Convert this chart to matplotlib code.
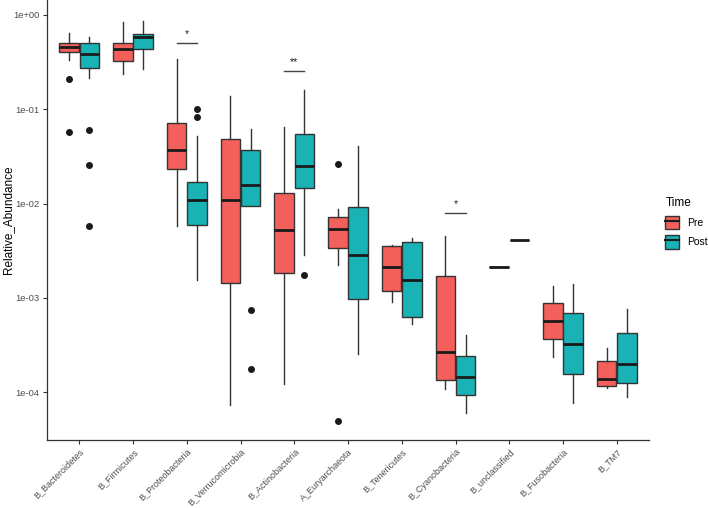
import matplotlib
matplotlib.use("Agg")
import matplotlib.pyplot as plt
from matplotlib.patches import Patch
from matplotlib.lines import Line2D
from matplotlib.legend_handler import HandlerTuple
import numpy as np

plt.rcParams['font.family'] = ['Liberation Sans', 'DejaVu Sans']

categories = ['B_Bacteroidetes', 'B_Firmicutes', 'B_Proteobacteria', 'B_Verrucomicrobia',
              'B_Actinobacteria', 'A_Euryarchaeota', 'B_Tenericutes', 'B_Cyanobacteria',
              'B_unclassified', 'B_Fusobacteria', 'B_TM7']

# box stats: whisker low, q1, median, q3, whisker high
pre_whislo = [0.330, 0.236, 0.00574, 7.2e-5, 1.21e-4, 0.00224, 9.0e-4, 1.07e-4, 0.0021, 2.38e-4, 1.11e-4]
pre_q1 =     [0.407, 0.322, 0.0232, 0.00144, 0.00185, 0.0034, 0.00118, 1.33e-4, 0.0021, 3.64e-4, 1.16e-4]
pre_med =    [0.457, 0.431, 0.0366, 0.0108, 0.00529, 0.00542, 0.00214, 2.64e-4, 0.0021, 5.65e-4, 1.39e-4]
pre_q3 =     [0.507, 0.504, 0.071, 0.0488, 0.013, 0.00728, 0.00351, 0.0017, 0.0021, 8.77e-4, 2.14e-4]
pre_whishi = [0.638, 0.849, 0.338, 0.137, 0.0644, 0.00879, 0.0036, 0.00457, 0.0021, 0.00134, 2.96e-4]
pre_out = [[0.208, 0.0574], [], [], [], [], [0.0262, 4.9e-5], [], [], [], [], []]

post_whislo = [0.217, 0.267, 0.00154, 0.00936, 0.00287, 2.52e-4, 5.25e-4, 6.0e-5, 0.00411, 7.58e-5, 8.85e-5]
post_q1 =     [0.273, 0.435, 0.00593, 0.00936, 0.0147, 9.7e-4, 6.28e-4, 9.36e-5, 0.00411, 1.57e-4, 1.26e-4]
post_med =    [0.388, 0.579, 0.0110, 0.0158, 0.0252, 0.00287, 0.00155, 1.46e-4, 0.00411, 3.27e-4, 2.0e-4]
post_q3 =     [0.507, 0.632, 0.0169, 0.0366, 0.0551, 0.00922, 0.00394, 2.43e-4, 0.00411, 6.87e-4, 4.27e-4]
post_whishi = [0.588, 0.87, 0.0516, 0.0623, 0.159, 0.0407, 0.00431, 4.04e-4, 0.00411, 0.00141, 7.59e-4]
post_out = [[0.0608, 0.0254, 0.00583], [], [0.1016, 0.0828], [7.4e-4, 1.74e-4], [0.00174], [], [], [], [], [], []]

sig_idx = [3, 5, 8]
sig_y = [0.5, 0.252, 0.00788]
sig_text = ['*', '**', '*']

col_pre = '#F35F5B'
col_post = '#19B3B5'
edge = '#333333'
txt = '#4D4D4D'

def stats(lo, q1, med, q3, hi, out):
    return [dict(whislo=a, q1=b, med=c, q3=d, whishi=e, fliers=f)
            for a, b, c, d, e, f in zip(lo, q1, med, q3, hi, out)]

fig = plt.figure(figsize=(7.08, 5.08), dpi=100)
ax = fig.add_axes([47 / 708, 1 - 440 / 508, 602 / 708, 440 / 508])

x = np.arange(1, len(categories) + 1)
w = 0.375
for st, pos, col in [(stats(pre_whislo, pre_q1, pre_med, pre_q3, pre_whishi, pre_out), x - w / 2, col_pre),
                     (stats(post_whislo, post_q1, post_med, post_q3, post_whishi, post_out), x + w / 2, col_post)]:
    ax.bxp(st, positions=pos, widths=w * 0.97, patch_artist=True, showcaps=False,
           boxprops=dict(facecolor=col, edgecolor=edge, linewidth=1.0),
           medianprops=dict(color='#1A1A1A', linewidth=2.0),
           whiskerprops=dict(color=edge, linewidth=1.0),
           flierprops=dict(marker='o', markerfacecolor='#1A1A1A', markeredgecolor='#1A1A1A',
                           markersize=4))

for i, yv, s in zip(sig_idx, sig_y, sig_text):
    ax.plot([i - w / 2, i + w / 2], [yv, yv], color='#444444', lw=1.0)
    ax.text(i, yv * 1.12, s, ha='center', va='bottom', fontsize=7.5, color='#222222')

ax.set_yscale('log')
ax.set_ylim(10 ** -4.509, 10 ** 0.159)
ax.set_xlim(0.4, 11.6)
ax.set_yticks([1e-4, 1e-3, 1e-2, 1e-1, 1e0])
ax.set_yticklabels(['1e-04', '1e-03', '1e-02', '1e-01', '1e+00'])
ax.yaxis.set_minor_locator(matplotlib.ticker.NullLocator())
ax.set_xticks(x)
ax.set_xticklabels(categories, rotation=45, ha='right', rotation_mode='anchor')
ax.tick_params(axis='both', labelsize=6.8, labelcolor=txt, length=3, width=0.8, color='#333333', pad=2.5)
ax.tick_params(axis='x', labelsize=6.5, pad=2)
ax.set_ylabel('Relative_Abundance', fontsize=8.5, color='black')
ax.yaxis.set_label_coords(-0.054, 0.5)
for sp in ['top', 'right']:
    ax.spines[sp].set_visible(False)
for sp in ['left', 'bottom']:
    ax.spines[sp].set_linewidth(0.9)
    ax.spines[sp].set_color('#333333')

handles = [(Patch(facecolor=col_pre, edgecolor=edge), Line2D([], [], color='#1A1A1A', lw=1.5)),
           (Patch(facecolor=col_post, edgecolor=edge), Line2D([], [], color='#1A1A1A', lw=1.5))]
fig.legend(handles, ['Pre', 'Post'], title='Time', loc='upper left',
           bbox_to_anchor=(656 / 708, 1 - 188 / 508), frameon=False, fontsize=7.5,
           title_fontsize=8.5, handler_map={tuple: HandlerTuple(ndivide=1)},
           handlelength=1.3, handleheight=1.6, labelspacing=0.6, handletextpad=0.8,
           alignment='left')

fig.savefig('out.png', dpi=100)
